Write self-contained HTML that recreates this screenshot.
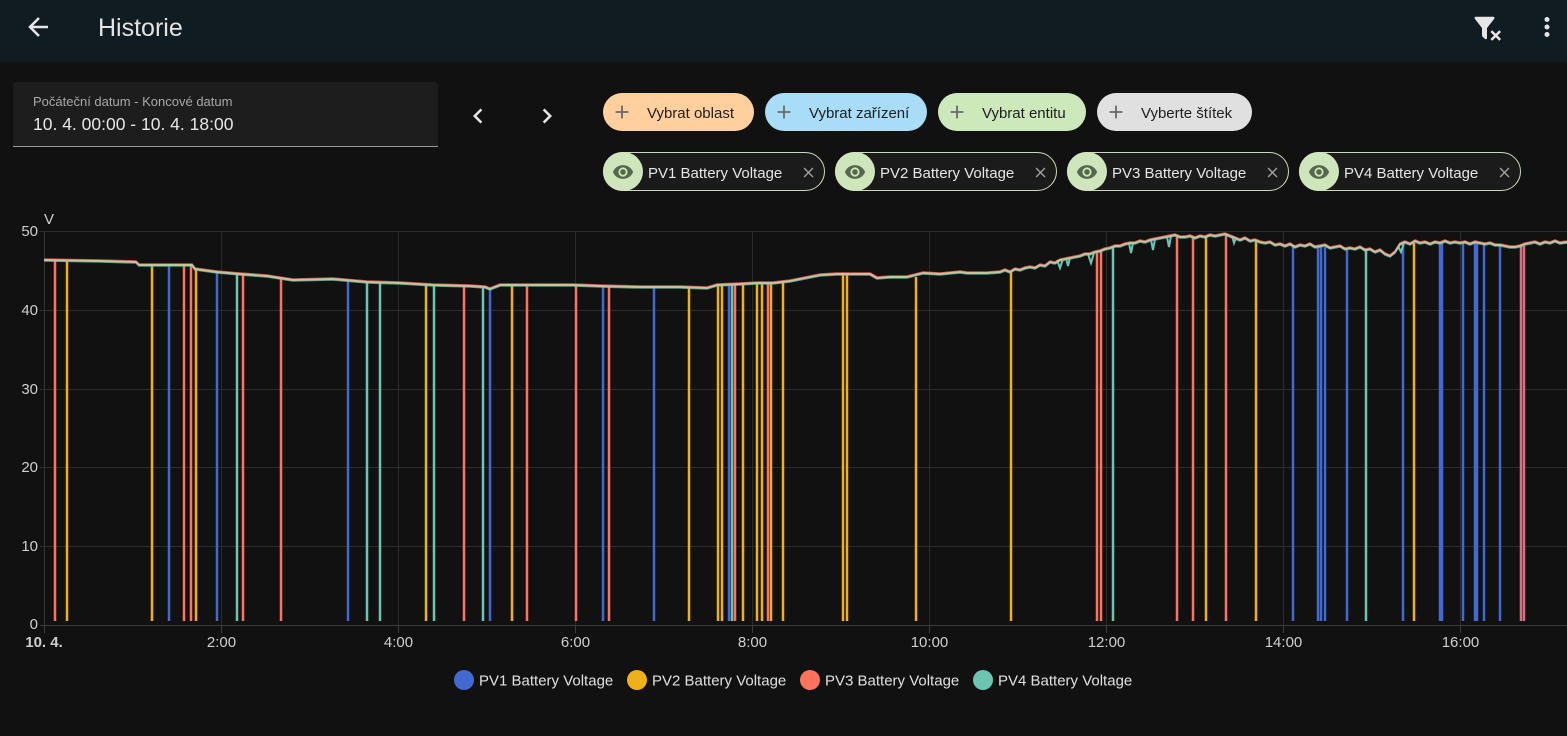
<!DOCTYPE html>
<html><head><meta charset="utf-8">
<style>
html,body{margin:0;padding:0;background:#111111;width:1567px;height:736px;overflow:hidden;font-family:"Liberation Sans",sans-serif;}
.hdr{position:absolute;left:0;top:0;width:1567px;height:62px;background:#101c22;}
.title{position:absolute;left:98px;top:13px;font-size:25px;color:#e3e3e3;line-height:30px;}
.abs{position:absolute;}
.date{position:absolute;left:13px;top:82px;width:425px;height:64px;background:#1d1d1d;border-bottom:1px solid #9a9a9a;border-radius:4px 4px 0 0;}
.date .lab{position:absolute;left:20px;top:12px;font-size:13px;color:#a8a8a8;}
.date .val{position:absolute;left:20px;top:32px;font-size:17.5px;color:#e6e6e6;}
.chip{position:absolute;top:93px;height:38px;border-radius:19px;font-size:15px;color:#202020;line-height:38px;}
.chip svg{position:absolute;left:8px;top:8px;}
.chip span{position:absolute;left:44px;top:2px;white-space:nowrap;}
.ent{position:absolute;top:152px;height:37px;width:220px;border:1px solid #c9d9bb;border-radius:20px;background:#1b1b1b;font-size:15px;color:#e6e6e6;line-height:37px;}
.ent .eye{position:absolute;left:-1px;top:-1px;width:40px;height:39px;border-radius:20px;background:#cfe6bc;}
.ent .eye svg{position:absolute;left:9px;top:9px;}
.ent span{position:absolute;left:44px;top:2px;white-space:nowrap;}
.ent .x{position:absolute;left:196px;top:11px;}
</style></head>
<body>
<div class="hdr">
  <svg class="abs" style="left:23px;top:12px" width="30" height="30" viewBox="0 0 24 24"><path fill="#e6e6e6" d="M20,11V13H8L13.5,18.5L12.08,19.92L4.16,12L12.08,4.08L13.5,5.5L8,11H20Z"/></svg>
  <div class="title">Historie</div>
  <svg class="abs" style="left:1472px;top:13px" width="30" height="30" viewBox="0 0 24 24"><path fill="#e6e6e6" d="M14.76,20.83L17.6,18L14.76,15.17L16.17,13.76L19,16.57L21.83,13.76L23.24,15.17L20.41,18L23.24,20.83L21.83,22.24L19,19.41L16.17,22.24L14.76,20.83M12,12V19.88C12.04,20.18 11.94,20.5 11.71,20.71C11.32,21.1 10.69,21.1 10.3,20.71L8.29,18.7C8.06,18.47 7.96,18.16 8,17.87V12H7.97L2.21,4.62C1.87,4.19 1.95,3.56 2.38,3.22C2.57,3.08 2.78,3 3,3V3H17V3C17.22,3 17.43,3.08 17.62,3.22C18.05,3.56 18.13,4.19 17.79,4.62L12.03,12H12Z"/></svg>
  <svg class="abs" style="left:1532px;top:12px" width="30" height="30" viewBox="0 0 24 24"><path fill="#e6e6e6" d="M12,16A2,2 0 0,1 14,18A2,2 0 0,1 12,20A2,2 0 0,1 10,18A2,2 0 0,1 12,16M12,10A2,2 0 0,1 14,12A2,2 0 0,1 12,14A2,2 0 0,1 10,12A2,2 0 0,1 12,10M12,4A2,2 0 0,1 14,6A2,2 0 0,1 12,8A2,2 0 0,1 10,6A2,2 0 0,1 12,4Z"/></svg>
</div>

<div class="date"><div class="lab">Počáteční datum - Koncové datum</div><div class="val">10. 4. 00:00 - 10. 4. 18:00</div></div>
<svg class="abs" style="left:463px;top:101px" width="30" height="30" viewBox="0 0 24 24"><path fill="#e6e6e6" d="M15.41,16.58L10.83,12L15.41,7.41L14,6L8,12L14,18L15.41,16.58Z"/></svg>
<svg class="abs" style="left:532px;top:101px" width="30" height="30" viewBox="0 0 24 24"><path fill="#e6e6e6" d="M8.59,16.58L13.17,12L8.59,7.41L10,6L16,12L10,18L8.59,16.58Z"/></svg>

<div class="chip" style="left:603px;width:151px;background:#ffd09e"><svg width="22" height="22" viewBox="0 0 24 24"><path fill="#6a6a6a" d="M19,13H13V19H11V13H5V11H11V5H13V11H19V13Z"/></svg><span>Vybrat oblast</span></div>
<div class="chip" style="left:765px;width:162px;background:#a8dcf7"><svg width="22" height="22" viewBox="0 0 24 24"><path fill="#6a6a6a" d="M19,13H13V19H11V13H5V11H11V5H13V11H19V13Z"/></svg><span>Vybrat zařízení</span></div>
<div class="chip" style="left:938px;width:148px;background:#cde8ba"><svg width="22" height="22" viewBox="0 0 24 24"><path fill="#6a6a6a" d="M19,13H13V19H11V13H5V11H11V5H13V11H19V13Z"/></svg><span>Vybrat entitu</span></div>
<div class="chip" style="left:1097px;width:155px;background:#e0e0e0"><svg width="22" height="22" viewBox="0 0 24 24"><path fill="#6a6a6a" d="M19,13H13V19H11V13H5V11H11V5H13V11H19V13Z"/></svg><span>Vyberte štítek</span></div>

<div class="ent" style="left:603px"><div class="eye"><svg width="22" height="22" viewBox="0 0 24 24"><path fill="#56684c" d="M12,9A3,3 0 0,0 9,12A3,3 0 0,0 12,15A3,3 0 0,0 15,12A3,3 0 0,0 12,9M12,17A5,5 0 0,1 7,12A5,5 0 0,1 12,7A5,5 0 0,1 17,12A5,5 0 0,1 12,17M12,4.5C7,4.5 2.73,7.61 1,12C2.73,16.39 7,19.5 12,19.5C17,19.5 21.27,16.39 23,12C21.27,7.61 17,4.5 12,4.5Z"/></svg></div><span>PV1 Battery Voltage</span><svg class="x" width="17" height="17" viewBox="0 0 24 24"><path fill="#a0a0a0" d="M19,6.41L17.59,5L12,10.59L6.41,5L5,6.41L10.59,12L5,17.59L6.41,19L12,13.41L17.59,19L19,17.59L13.41,12L19,6.41Z"/></svg></div>
<div class="ent" style="left:835px"><div class="eye"><svg width="22" height="22" viewBox="0 0 24 24"><path fill="#56684c" d="M12,9A3,3 0 0,0 9,12A3,3 0 0,0 12,15A3,3 0 0,0 15,12A3,3 0 0,0 12,9M12,17A5,5 0 0,1 7,12A5,5 0 0,1 12,7A5,5 0 0,1 17,12A5,5 0 0,1 12,17M12,4.5C7,4.5 2.73,7.61 1,12C2.73,16.39 7,19.5 12,19.5C17,19.5 21.27,16.39 23,12C21.27,7.61 17,4.5 12,4.5Z"/></svg></div><span>PV2 Battery Voltage</span><svg class="x" width="17" height="17" viewBox="0 0 24 24"><path fill="#a0a0a0" d="M19,6.41L17.59,5L12,10.59L6.41,5L5,6.41L10.59,12L5,17.59L6.41,19L12,13.41L17.59,19L19,17.59L13.41,12L19,6.41Z"/></svg></div>
<div class="ent" style="left:1067px"><div class="eye"><svg width="22" height="22" viewBox="0 0 24 24"><path fill="#56684c" d="M12,9A3,3 0 0,0 9,12A3,3 0 0,0 12,15A3,3 0 0,0 15,12A3,3 0 0,0 12,9M12,17A5,5 0 0,1 7,12A5,5 0 0,1 12,7A5,5 0 0,1 17,12A5,5 0 0,1 12,17M12,4.5C7,4.5 2.73,7.61 1,12C2.73,16.39 7,19.5 12,19.5C17,19.5 21.27,16.39 23,12C21.27,7.61 17,4.5 12,4.5Z"/></svg></div><span>PV3 Battery Voltage</span><svg class="x" width="17" height="17" viewBox="0 0 24 24"><path fill="#a0a0a0" d="M19,6.41L17.59,5L12,10.59L6.41,5L5,6.41L10.59,12L5,17.59L6.41,19L12,13.41L17.59,19L19,17.59L13.41,12L19,6.41Z"/></svg></div>
<div class="ent" style="left:1299px"><div class="eye"><svg width="22" height="22" viewBox="0 0 24 24"><path fill="#56684c" d="M12,9A3,3 0 0,0 9,12A3,3 0 0,0 12,15A3,3 0 0,0 15,12A3,3 0 0,0 12,9M12,17A5,5 0 0,1 7,12A5,5 0 0,1 12,7A5,5 0 0,1 17,12A5,5 0 0,1 12,17M12,4.5C7,4.5 2.73,7.61 1,12C2.73,16.39 7,19.5 12,19.5C17,19.5 21.27,16.39 23,12C21.27,7.61 17,4.5 12,4.5Z"/></svg></div><span>PV4 Battery Voltage</span><svg class="x" width="17" height="17" viewBox="0 0 24 24"><path fill="#a0a0a0" d="M19,6.41L17.59,5L12,10.59L6.41,5L5,6.41L10.59,12L5,17.59L6.41,19L12,13.41L17.59,19L19,17.59L13.41,12L19,6.41Z"/></svg></div>

<svg class="abs" style="left:0;top:0" width="1567" height="736" viewBox="0 0 1567 736">
  <g stroke="#2c2c2c" stroke-width="1" fill="none">
    <path d="M40,231.5H1567M40,310.5H1567M40,389.5H1567M40,467.5H1567M40,546.5H1567"/>
    <path d="M221.5,231V625M398.5,231V625M575.5,231V625M752.5,231V625M929.5,231V625M1106.5,231V625M1283.5,231V625M1460.5,231V625"/>
  </g>
  <path d="M44.5,231V625" stroke="#333" stroke-width="1"/>
  <path d="M40,625.5H1567" stroke="#3c3c3c" stroke-width="1"/>
  <path d="M44.5,625V633M221.5,625V633M398.5,625V633M575.5,625V633M752.5,625V633M929.5,625V633M1106.5,625V633M1283.5,625V633M1460.5,625V633" stroke="#3c3c3c" stroke-width="1"/>

  <g font-family="Liberation Sans, sans-serif" font-size="15" fill="#cfcfcf">
    <text x="44" y="224">V</text>
    <text x="38" y="236" text-anchor="end">50</text>
    <text x="38" y="315" text-anchor="end">40</text>
    <text x="38" y="394" text-anchor="end">30</text>
    <text x="38" y="472" text-anchor="end">20</text>
    <text x="38" y="551" text-anchor="end">10</text>
    <text x="38" y="629" text-anchor="end">0</text>
    <text x="44" y="647" text-anchor="middle" font-weight="bold">10. 4.</text>
    <text x="221.5" y="647" text-anchor="middle">2:00</text>
    <text x="398.5" y="647" text-anchor="middle">4:00</text>
    <text x="575.5" y="647" text-anchor="middle">6:00</text>
    <text x="752.5" y="647" text-anchor="middle">8:00</text>
    <text x="929.5" y="647" text-anchor="middle">10:00</text>
    <text x="1106.5" y="647" text-anchor="middle">12:00</text>
    <text x="1283.5" y="647" text-anchor="middle">14:00</text>
    <text x="1460.5" y="647" text-anchor="middle">16:00</text>
  </g>

  <!-- spikes: solid lines -->
  <g fill="none" stroke-width="2.5">
    <path stroke="#4269d0" d="M169,265V621M217,272V621M348,280V621M490,289V621M603,286V621M654,287V621M729,285V621M1293,245V621M1318,246V621M1321,246V621M1325,247V621M1347,248V621M1403,243V621M1440,243V621M1442,243V621M1463,242V621M1475,243V621M1477,243V621M1484,243V621M1500,245V621"/>
    <path stroke="#efb118" d="M67,260V621M152,265V621M196,269V621M426,285V621M512,285V621M689,288V621M718,285V621M722,285V621M743,284V621M757,283V621M762,283V621M771,283V621M783,282V621M843,274V621M847,274V621M916,277V621M1011,271V621M1206,236V621M1256,241V621M1414,243V621"/>
    <path stroke="#ff725c" d="M55,260V621M184,265V621M191,265V621M243,275V621M281,278V621M464,286V621M527,285V621M576,285V621M609,286V621M735,284V621M768,283V621M1097,251V621M1101,250V621M1177,236V621M1193,237V621M1226,235V621"/>
    <path stroke="#d9707f" d="M1521,246V621M1524,246V621"/>
    <path stroke="#6cc5b0" d="M237,274V621M367,282V621M380,283V621M434,285V621M483,288V621M732,285V621M1113,247V621M1366,250V621"/>
  </g>

  <!-- small dips -->
  <g fill="none" stroke="#6cc5b0" stroke-width="2">
    <path d="M1057,260L1060,268L1063,259M1066,258L1068,266L1070,258M1088,254L1091,263L1094,253M1129,243L1131,253L1133,243M1151,240L1153,250L1155,239M1167,237L1169,247L1171,236M1232,236L1234,243L1236,238M1398,246L1401,252L1404,243"/>
  </g>

  <!-- main line -->
  <g fill="none" stroke-linejoin="round">
    <path transform="translate(0,-1)" stroke="#ff725c" stroke-opacity="0.75" stroke-width="1.6" d="M44,260L100,261L136,262L139,265L150,265L192,265L195,269L217,272L240,274L267,276L280,278L293,280L333,279L367,282L400,283L433,285L470,286L485,287L490,289L500,285L540,285L573,285L600,286L640,287L680,287L707,288L717,285L740,284L757,283L773,283L790,281L805,278L820,275L837,274L870,274L877,278L890,277L907,277L923,273L940,274L960,272L967,273L987,273L1000,272L1005,270L1010,272L1015,269L1020,270L1025,268L1030,267L1035,268L1040,265L1045,266L1050,262L1055,263L1060,260L1065,259L1070,258L1075,257L1080,256L1085,254L1090,254L1095,252L1100,251L1105,249L1110,248L1115,246L1120,246L1125,244L1130,243L1135,243L1140,241L1145,242L1150,240L1155,239L1160,238L1165,237L1170,236L1175,235L1180,237L1185,237L1190,236L1195,238L1200,236L1205,237L1210,235L1215,236L1220,235L1225,234L1230,236L1235,238L1240,240L1245,238L1250,241L1255,240L1260,242L1265,243L1270,242L1275,245L1280,244L1285,246L1290,244L1295,247L1300,245L1305,246L1310,244L1315,247L1320,246L1325,245L1330,248L1335,247L1340,246L1345,249L1350,248L1355,249L1360,247L1365,250L1370,249L1375,252L1380,250L1385,254L1390,256L1395,252L1400,244L1405,242L1410,244L1415,241L1420,243L1425,242L1430,244L1435,242L1440,243L1445,241L1450,243L1455,242L1460,243L1465,242L1470,244L1475,242L1480,243L1485,244L1490,243L1495,245L1500,245L1505,246L1510,247L1515,247L1520,246L1525,244L1530,243L1535,242L1540,244L1545,242L1550,243L1555,241L1560,243L1567,242"/>
    <path transform="translate(0,1)" stroke="#6cc5b0" stroke-opacity="0.75" stroke-width="1.6" d="M44,260L100,261L136,262L139,265L150,265L192,265L195,269L217,272L240,274L267,276L280,278L293,280L333,279L367,282L400,283L433,285L470,286L485,287L490,289L500,285L540,285L573,285L600,286L640,287L680,287L707,288L717,285L740,284L757,283L773,283L790,281L805,278L820,275L837,274L870,274L877,278L890,277L907,277L923,273L940,274L960,272L967,273L987,273L1000,272L1005,270L1010,272L1015,269L1020,270L1025,268L1030,267L1035,268L1040,265L1045,266L1050,262L1055,263L1060,260L1065,259L1070,258L1075,257L1080,256L1085,254L1090,254L1095,252L1100,251L1105,249L1110,248L1115,246L1120,246L1125,244L1130,243L1135,243L1140,241L1145,242L1150,240L1155,239L1160,238L1165,237L1170,236L1175,235L1180,237L1185,237L1190,236L1195,238L1200,236L1205,237L1210,235L1215,236L1220,235L1225,234L1230,236L1235,238L1240,240L1245,238L1250,241L1255,240L1260,242L1265,243L1270,242L1275,245L1280,244L1285,246L1290,244L1295,247L1300,245L1305,246L1310,244L1315,247L1320,246L1325,245L1330,248L1335,247L1340,246L1345,249L1350,248L1355,249L1360,247L1365,250L1370,249L1375,252L1380,250L1385,254L1390,256L1395,252L1400,244L1405,242L1410,244L1415,241L1420,243L1425,242L1430,244L1435,242L1440,243L1445,241L1450,243L1455,242L1460,243L1465,242L1470,244L1475,242L1480,243L1485,244L1490,243L1495,245L1500,245L1505,246L1510,247L1515,247L1520,246L1525,244L1530,243L1535,242L1540,244L1545,242L1550,243L1555,241L1560,243L1567,242"/>
    <path stroke="#c8c09e" stroke-width="1.9" d="M44,260L100,261L136,262L139,265L150,265L192,265L195,269L217,272L240,274L267,276L280,278L293,280L333,279L367,282L400,283L433,285L470,286L485,287L490,289L500,285L540,285L573,285L600,286L640,287L680,287L707,288L717,285L740,284L757,283L773,283L790,281L805,278L820,275L837,274L870,274L877,278L890,277L907,277L923,273L940,274L960,272L967,273L987,273L1000,272L1005,270L1010,272L1015,269L1020,270L1025,268L1030,267L1035,268L1040,265L1045,266L1050,262L1055,263L1060,260L1065,259L1070,258L1075,257L1080,256L1085,254L1090,254L1095,252L1100,251L1105,249L1110,248L1115,246L1120,246L1125,244L1130,243L1135,243L1140,241L1145,242L1150,240L1155,239L1160,238L1165,237L1170,236L1175,235L1180,237L1185,237L1190,236L1195,238L1200,236L1205,237L1210,235L1215,236L1220,235L1225,234L1230,236L1235,238L1240,240L1245,238L1250,241L1255,240L1260,242L1265,243L1270,242L1275,245L1280,244L1285,246L1290,244L1295,247L1300,245L1305,246L1310,244L1315,247L1320,246L1325,245L1330,248L1335,247L1340,246L1345,249L1350,248L1355,249L1360,247L1365,250L1370,249L1375,252L1380,250L1385,254L1390,256L1395,252L1400,244L1405,242L1410,244L1415,241L1420,243L1425,242L1430,244L1435,242L1440,243L1445,241L1450,243L1455,242L1460,243L1465,242L1470,244L1475,242L1480,243L1485,244L1490,243L1495,245L1500,245L1505,246L1510,247L1515,247L1520,246L1525,244L1530,243L1535,242L1540,244L1545,242L1550,243L1555,241L1560,243L1567,242"/>
  </g>

  <!-- legend -->
  <g font-family="Liberation Sans, sans-serif" font-size="15" fill="#e0e0e0">
    <circle cx="464" cy="680" r="10" fill="#4269d0"/><text x="479" y="685.5">PV1 Battery Voltage</text>
    <circle cx="637" cy="680" r="10" fill="#efb118"/><text x="652" y="685.5">PV2 Battery Voltage</text>
    <circle cx="810" cy="680" r="10" fill="#ff725c"/><text x="825" y="685.5">PV3 Battery Voltage</text>
    <circle cx="983" cy="680" r="10" fill="#6cc5b0"/><text x="998" y="685.5">PV4 Battery Voltage</text>
  </g>
</svg>
</body></html>
